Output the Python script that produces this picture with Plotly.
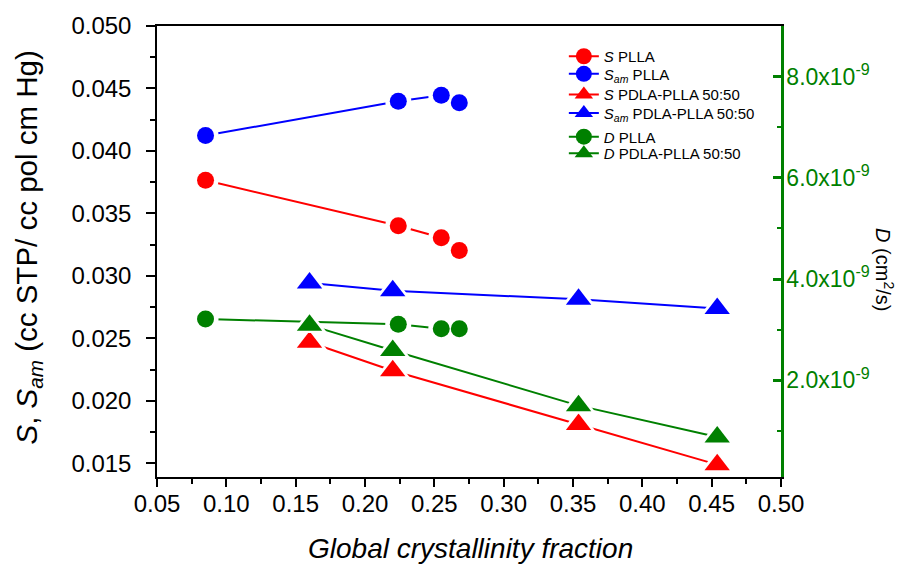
import plotly.graph_objects as go

# ---- data ----
x_plla = [0.085, 0.224, 0.255, 0.268]
s_plla = [0.03765, 0.03401, 0.03305, 0.03203]
sam_plla = [0.04123, 0.04398, 0.04445, 0.04385]
d_plla = [3.21e-9, 3.11e-9, 3.02e-9, 3.02e-9]

x_blend = [0.160, 0.220, 0.354, 0.454]
s_blend = [0.02469, 0.02241, 0.01810, 0.01489]
sam_blend = [0.02943, 0.02880, 0.02812, 0.02739]
d_blend = [3.09e-9, 2.59e-9, 1.50e-9, 0.88e-9]

names = ["<i>S</i> PLLA", "<i>S<sub>am</sub></i> PLLA",
         "<i>S</i> PDLA-PLLA 50:50", "<i>S<sub>am</sub></i> PDLA-PLLA 50:50",
         "<i>D</i> PLLA", "<i>D</i> PDLA-PLLA 50:50"]

d_tickvals = [2e-9, 4e-9, 6e-9, 8e-9]
d_ticktext = ["2.0x10<sup>-9</sup>", "4.0x10<sup>-9</sup>",
              "6.0x10<sup>-9</sup>", "8.0x10<sup>-9</sup>"]

RED, BLUE, GREEN = "#FF0000", "#0000FF", "#008000"
FONT = "Arial, Liberation Sans, sans-serif"

series = [
    (x_plla, s_plla, RED, "circle", "y", names[0]),
    (x_plla, sam_plla, BLUE, "circle", "y", names[1]),
    (x_blend, s_blend, RED, "triangle-up", "y", names[2]),
    (x_blend, sam_blend, BLUE, "triangle-up", "y", names[3]),
    (x_plla, d_plla, GREEN, "circle", "y2", names[4]),
    (x_blend, d_blend, GREEN, "triangle-up", "y2", names[5]),
]

SIZE = {"circle": 17, "triangle-up": 22}

fig = go.Figure()
for ax in ["y", "y2"]:
    sel = [s for s in series if s[4] == ax]
    # lines
    for xs, ys, c, sym, a, n in sel:
        fig.add_trace(go.Scatter(x=xs, y=ys, yaxis=a, mode="lines",
                                 line=dict(color=c, width=2),
                                 showlegend=False, hoverinfo="skip"))
    # white halos -> gaps in the lines around markers
    for xs, ys, c, sym, a, n in sel:
        fig.add_trace(go.Scatter(x=xs, y=ys, yaxis=a, mode="markers",
                                 marker=dict(symbol=sym, size=SIZE[sym] + 9,
                                             color="white", line=dict(width=0)),
                                 showlegend=False, hoverinfo="skip"))
    # markers
    for xs, ys, c, sym, a, n in sel:
        fig.add_trace(go.Scatter(x=xs, y=ys, yaxis=a, mode="markers",
                                 marker=dict(symbol=sym, size=SIZE[sym],
                                             color=c, line=dict(width=0)),
                                 showlegend=False))

# legend entries, one small legend per row so rows can sit where the reference has them
legend_ids = ["legend", "legend2", "legend3", "legend4", "legend5", "legend6"]
row_y = [0.9324, 0.8933, 0.8476, 0.8063, 0.7541, 0.7172]
for i, (xs, ys, c, sym, a, n) in enumerate(series):
    fig.add_trace(go.Scatter(x=[None], y=[None], yaxis=a, mode="lines+markers",
                             name=n, legend=legend_ids[i],
                             line=dict(color=c, width=2),
                             marker=dict(symbol=sym, size=SIZE[sym], color=c)))

legend_layout = {}
for lid, yy in zip(legend_ids, row_y):
    legend_layout[lid] = dict(x=0.652, y=yy, xanchor="left", yanchor="middle",
                              bgcolor="rgba(0,0,0,0)",
                              font=dict(size=15, family=FONT, color="black"),
                              itemsizing="trace")

fig.update_layout(
    width=903, height=567,
    margin=dict(l=157, r=122, t=17, b=90),
    paper_bgcolor="white", plot_bgcolor="white",
    font=dict(family=FONT, color="black"),
    showlegend=True,
    **legend_layout,
    xaxis=dict(range=[0.05, 0.50], dtick=0.05, tick0=0.05, tickformat=".2f",
               showline=True, linecolor="black", linewidth=1.5, mirror=True,
               ticks="outside", ticklen=8, tickwidth=1.5, tickcolor="black",
               minor=dict(dtick=0.025, tick0=0.05, ticks="outside", ticklen=5,
                          tickwidth=1.5, tickcolor="black"),
               showgrid=False, zeroline=False, ticklabelstandoff=-4,
               tickfont=dict(size=24, family=FONT, color="black")),
    yaxis=dict(range=[0.0139, 0.050], dtick=0.005, tick0=0.015, tickformat=".3f",
               showline=True, linecolor="black", linewidth=1.5,
               ticks="outside", ticklen=9, tickwidth=1.5, tickcolor="black",
               minor=dict(dtick=0.0025, tick0=0.015, ticks="outside", ticklen=5,
                          tickwidth=1.5, tickcolor="black"),
               showgrid=False, zeroline=False, ticklabelstandoff=10,
               tickfont=dict(size=24, family=FONT, color="black")),
    yaxis2=dict(overlaying="y", side="right", range=[0.09e-9, 9.0e-9],
                tickvals=d_tickvals, ticktext=d_ticktext,
                showline=True, linecolor=GREEN, linewidth=2.5,
                ticks="inside", ticklen=8, tickwidth=2.5, tickcolor=GREEN,
                minor=dict(dtick=1e-9, tick0=0, ticks="inside", ticklen=4,
                           tickwidth=2, tickcolor=GREEN),
                showgrid=False, zeroline=False, ticklabelstandoff=-2,
                tickfont=dict(size=23, family=FONT, color=GREEN)),
    annotations=[
        dict(text="<i>Global crystallinity fraction</i>", xref="paper", yref="paper",
             x=0.503, y=0, yshift=-71, showarrow=False, xanchor="center", yanchor="middle",
             font=dict(size=28, family=FONT, color="black")),
        dict(text="<i>S</i>, <i>S<sub>am</sub></i> (cc STP/ cc pol cm Hg)",
             xref="paper", yref="paper", x=0, xshift=-129, y=0.5, yshift=4,
             textangle=-90, showarrow=False, xanchor="center", yanchor="middle",
             font=dict(size=29.5, family=FONT, color="black")),
        dict(text="<i>D</i> (cm<sup>2</sup>/s)", xref="paper", yref="paper",
             x=1, xshift=104, y=0.461, textangle=90, showarrow=False,
             xanchor="center", yanchor="middle",
             font=dict(size=20, family=FONT, color="black")),
    ],
)

fig.write_html("out.html")
